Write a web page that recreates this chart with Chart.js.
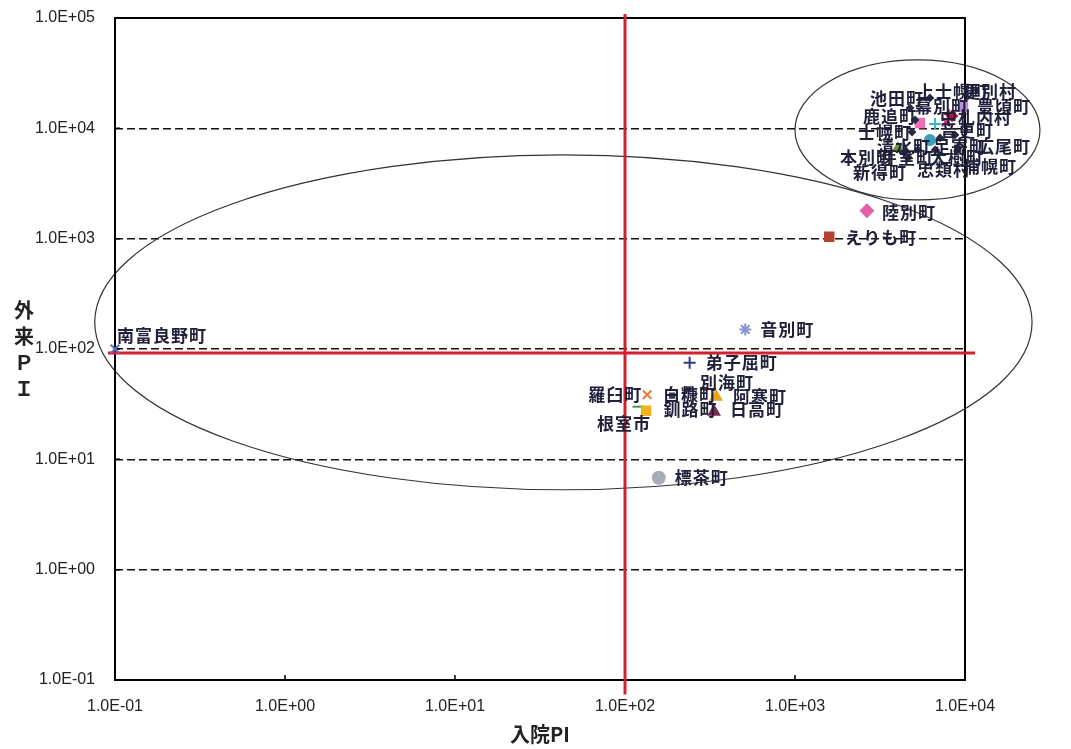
<!DOCTYPE html>
<html>
<head>
<meta charset="utf-8">
<script src="https://cdn.jsdelivr.net/npm/chart.js@4.4.1/dist/chart.umd.min.js"></script>
<style>
  html, body { margin: 0; padding: 0; background: #ffffff; }
  canvas { display: block; }
</style>
</head>
<body>
<canvas id="pi" width="1071" height="749"></canvas>
<script>
// 市町村名
const towns = [
  '南富良野町', '音別町', '弟子屈町', '別海町', '羅臼町', '白糠町', '釧路町', '根室市',
  '阿寒町', '日高町', '標茶町', '陸別町', 'えりも町',
  '池田町', '上士幌町', '更別村', '幕別町', '豊頃町', '鹿追町', '中札内村', '士幌町',
  '音更町', '清水町', '足寄町', '広尾町', '本別町', '芽室町', '大樹町', '新得町',
  '忠類村', '浦幌町'
];
// 入院PI
const inpatientPI = [
  0.1, 510, 240, 235, 135, 189, 120, 133,
  343, 334, 158, 2650, 1590,
  4750, 6220, 8390, 5430, 9730, 5080, 7730, 4880,
  6670, 4030, 7130, 8730, 4440, 5290, 6220, 4620,
  6670, 9100
];
// 外来PI
const outpatientPI = [
  100, 150, 75, 43, 38.5, 37.7, 30, 27.5,
  37, 27, 6.8, 1790, 1040,
  15300, 18850, 12950, 11190, 15630, 11910, 11430, 9270,
  10960, 6640, 8190, 8710, 6110, 6370, 7850, 5390,
  6370, 6640
];

// 基準線 (入院PI = 100, 外来PI ≈ 92)
const refInpatient = 100;
const refOutpatient = 92;

// 軸目盛
const xTicks = [0.1, 1, 10, 100, 1000, 10000];
const xTickLabels = ['1.0E-01', '1.0E+00', '1.0E+01', '1.0E+02', '1.0E+03', '1.0E+04'];
const yTicks = [0.1, 1, 10, 100, 1000, 10000, 100000];
const yTickLabels = ['1.0E-01', '1.0E+00', '1.0E+01', '1.0E+02', '1.0E+03', '1.0E+04', '1.0E+05'];

// マーカーの形・色・大きさ
const markerStyles = [
  'crossRot', 'star', 'cross', 'rect', 'crossRot', 'rect', 'line', 'rect',
  'triangle', 'triangle', 'circle', 'rectRot', 'rect',
  'rectRot', 'rectRot', 'rectRot', 'rect', 'rect', 'rectRot', 'crossRot', 'rectRot',
  'cross', 'triangle', 'rectRot', 'rectRot', 'rectRot', 'rectRot', 'circle', 'rectRot',
  'rectRot', 'rectRot'
];
const markerColors = [
  '#5a6fb8', '#8b8fd6', '#2b3a8c', '#3a3a4a', '#f07a3a', '#3a3a4a', '#3f9a5a', '#f2b21e',
  '#f0a020', '#7a2a5a', '#a8acb4', '#e060a8', '#b8402e',
  '#2a2a44', '#2a2a44', '#c01040', '#f070b8', '#b890d8', '#2a2a44', '#d02080', '#2a2a44',
  '#30b8c8', '#6a9a30', '#2a2a44', '#2a2a44', '#2a2a44', '#2a2a44', '#3aa0c0', '#2a2a44',
  '#2a2a44', '#2a2a44'
];
const markerRadii = [
  6, 6, 6, 3, 6, 3, 6, 6,
  6, 6, 6, 6, 6,
  3, 3, 5, 6, 6, 3, 6, 3,
  6, 5, 3, 3, 3, 3, 5, 3,
  3, 3
];
// ラベル位置 (マーカーからのずれ, px)
const labelOffsets = [
  [2, -13], [15, 0], [16, 0], [12, -7], [-59, 0], [-9, -1], [25, 3], [-49, 13],
  [17, 0], [16, -2], [16, 0], [15, 2], [16, 1],
  [-40, -9], [-13, -6], [11, -24], [-5, -16], [14, 0], [-52, -3], [-6, -4], [-54, 1],
  [5, 7], [-21, -1], [-7, 9], [22, 12], [-65, 6], [-38, 8], [0, 18], [-55, 15],
  [-18, 20], [5, 19]
];

// 囲み楕円 (データ座標での外接範囲)
const ellipses = [
  { xMin: 0.076, xMax: 24800, yMin: 5.3, yMax: 5740 },
  { xMin: 1000, xMax: 27600, yMin: 2245, yMax: 41700 }
];

const points = towns.map((t, i) => ({ x: inpatientPI[i], y: outpatientPI[i] }));

const frameAndEllipses = {
  id: 'frameAndEllipses',
  beforeDatasetsDraw(chart) {
    const { ctx, chartArea: a, scales: { x, y } } = chart;
    ctx.save();
    // 楕円
    ctx.strokeStyle = '#333333';
    ctx.lineWidth = 1.2;
    ellipses.forEach(e => {
      const l = x.getPixelForValue(e.xMin), r = x.getPixelForValue(e.xMax);
      const t = y.getPixelForValue(e.yMax), b = y.getPixelForValue(e.yMin);
      ctx.beginPath();
      ctx.ellipse((l + r) / 2, (t + b) / 2, (r - l) / 2, (b - t) / 2, 0, 0, Math.PI * 2);
      ctx.stroke();
    });
    // 枠
    ctx.strokeStyle = '#000000';
    ctx.lineWidth = 2;
    ctx.strokeRect(a.left, a.top, a.right - a.left, a.bottom - a.top);
    // 内向きの目盛
    ctx.lineWidth = 1.5;
    ctx.beginPath();
    xTicks.forEach(v => {
      const px = x.getPixelForValue(v);
      ctx.moveTo(px, a.bottom);
      ctx.lineTo(px, a.bottom - 5);
    });
    yTicks.forEach(v => {
      const py = y.getPixelForValue(v);
      ctx.moveTo(a.left, py);
      ctx.lineTo(a.left + 5, py);
    });
    ctx.stroke();
    ctx.restore();
  }
};

const pointLabels = {
  id: 'pointLabels',
  afterDatasetsDraw(chart) {
    const { ctx } = chart;
    const meta = chart.getDatasetMeta(0);
    ctx.save();
    ctx.font = 'bold 17px "Noto Sans CJK JP", sans-serif';
    ctx.letterSpacing = '1px';
    ctx.fillStyle = '#20203a';
    ctx.textAlign = 'left';
    ctx.textBaseline = 'middle';
    meta.data.forEach((el, i) => {
      const [dx, dy] = labelOffsets[i];
      ctx.fillText(towns[i], el.x + dx, el.y + dy);
    });
    ctx.restore();
  }
};

const axisTitles = {
  id: 'axisTitles',
  afterDraw(chart) {
    const { ctx, chartArea: a } = chart;
    ctx.save();
    ctx.fillStyle = '#222222';
    ctx.textAlign = 'center';
    ctx.textBaseline = 'middle';
    ctx.font = 'bold 20px "Noto Sans CJK JP", sans-serif';
    ctx.fillText('入院PI', (a.left + a.right) / 2, 734);
    const chars = ['外', '来', 'Ｐ', 'Ｉ'];
    chars.forEach((c, i) => ctx.fillText(c, 24, 310 + i * 26));
    ctx.restore();
  }
};

const tickFont = { family: '"Liberation Sans", Arial, sans-serif', size: 16 };

new Chart(document.getElementById('pi'), {
  type: 'scatter',
  data: {
    datasets: [
      {
        data: points,
        pointStyle: markerStyles,
        backgroundColor: markerColors,
        borderColor: markerColors,
        pointRadius: markerRadii,
        borderWidth: 2,
        clip: false
      },
      {
        type: 'line',
        data: [{ x: refInpatient, y: 0.0738 }, { x: refInpatient, y: 108700 }],
        borderColor: '#d4202c',
        borderWidth: 3,
        pointRadius: 0,
        showLine: true,
        clip: false
      },
      {
        type: 'line',
        data: [{ x: 0.091, y: refOutpatient }, { x: 11450, y: refOutpatient }],
        borderColor: '#d4202c',
        borderWidth: 3,
        pointRadius: 0,
        showLine: true,
        clip: false
      }
    ]
  },
  options: {
    responsive: false,
    animation: false,
    events: [],
    layout: { padding: { top: 18, right: 106, left: 0, bottom: 0 } },
    plugins: { legend: { display: false }, tooltip: { enabled: false } },
    scales: {
      x: {
        type: 'logarithmic',
        min: 0.1,
        max: 10000,
        afterBuildTicks(s) { s.ticks = xTicks.map(v => ({ value: v })); },
        afterFit(s) { s.height = 69; s.paddingLeft = 0; s.paddingRight = 0; },
        ticks: {
          autoSkip: false,
          maxRotation: 0,
          padding: 17,
          color: '#222222',
          font: tickFont,
          callback: (v, i) => xTickLabels[i]
        },
        grid: { display: false, drawTicks: false },
        border: { display: false }
      },
      y: {
        type: 'logarithmic',
        min: 0.1,
        max: 100000,
        afterBuildTicks(s) { s.ticks = yTicks.map(v => ({ value: v })); },
        afterFit(s) { s.width = 115; s.paddingTop = 0; s.paddingBottom = 0; },
        ticks: {
          autoSkip: false,
          padding: 20,
          color: '#222222',
          font: tickFont,
          callback: (v, i) => yTickLabels[i]
        },
        grid: {
          drawTicks: false,
          color: '#111111',
          lineWidth: 1.4
        },
        border: { display: false, dash: [8, 4] }
      }
    }
  },
  plugins: [frameAndEllipses, pointLabels, axisTitles]
});
</script>
</body>
</html>
